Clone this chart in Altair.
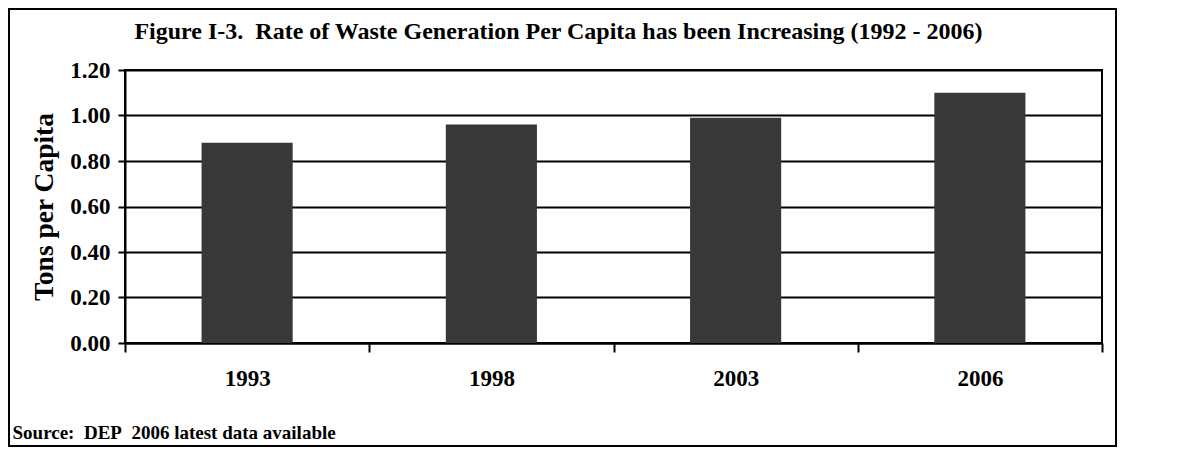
import altair as alt
import pandas as pd

years = ["1993", "1998", "2003", "2006"]
tons = [0.88, 0.96, 0.99, 1.10]
y_ticks = [0.0, 0.2, 0.4, 0.6, 0.8, 1.0, 1.2]

title_text = "Figure I-3.\u00a0 Rate of Waste Generation Per Capita has been Increasing (1992 - 2006)"
source_text = "Source:\u00a0 DEP\u00a0 2006 latest data available"

df = pd.DataFrame({"year": years, "tons": tons})

FONT = "Liberation Serif"
W, H = 977, 273
PL, PT, PR, PB = 117, 62, 16, 105

bars = alt.Chart(df).mark_bar(width=alt.RelativeBandSize(0.373), color="#383838").encode(
    x=alt.X(
        "year:N",
        sort=years,
        scale=alt.Scale(paddingInner=0, paddingOuter=0),
        axis=alt.Axis(
            title=source_text,
            labelAngle=0,
            tickBand="extent",
            grid=False,
            labelFont=FONT, labelFontSize=23, labelFontWeight="bold", labelColor="black",
            labelPadding=15,
            tickSize=9, tickWidth=2, tickColor="black",
            domainColor="black", domainWidth=2,
            titleFont=FONT, titleFontSize=19, titleFontWeight="bold", titleColor="black",
            titleX=-113, titleY=95, titleAlign="left", titleBaseline="alphabetic",
        ),
    ),
    y=alt.Y(
        "tons:Q",
        scale=alt.Scale(domain=[0, 1.2], nice=False),
        axis=alt.Axis(
            title="Tons per Capita",
            values=y_ticks,
            format=".2f",
            grid=True, gridColor="black", gridWidth=2, gridOpacity=1,
            labelFont=FONT, labelFontSize=23, labelFontWeight="bold", labelColor="black",
            labelPadding=8,
            tickSize=7, tickWidth=2, tickColor="black",
            domainColor="black", domainWidth=2,
            titleFont=FONT, titleFontSize=27.5, titleFontWeight="bold", titleColor="black",
            titleX=-81, titleY=H / 2, titleAngle=270, titleAlign="center", titleBaseline="middle",
        ),
    ),
)

frame = alt.Chart(pd.DataFrame({"a": [0]})).mark_rect(
    fill="transparent", stroke="black", strokeWidth=2
).encode(
    x=alt.value(-PL + 1), x2=alt.value(W + PR - 2),
    y=alt.value(-PT + 1), y2=alt.value(H + PB - 2),
)

chart = alt.layer(frame, bars).properties(
    width=W,
    height=H,
    title=alt.TitleParams(
        title_text, font=FONT, fontSize=24, fontWeight="bold", color="black",
        anchor="middle", frame="group", dx=-55, dy=55, offset=0, baseline="alphabetic",
    ),
    autosize=alt.AutoSizeParams(type="none"),
    padding={"left": PL, "top": PT, "right": PR, "bottom": PB},
    background="white",
).configure_view(stroke="black", strokeWidth=2)

chart.save("out.html", embed_options={"renderer": "svg", "actions": False})
